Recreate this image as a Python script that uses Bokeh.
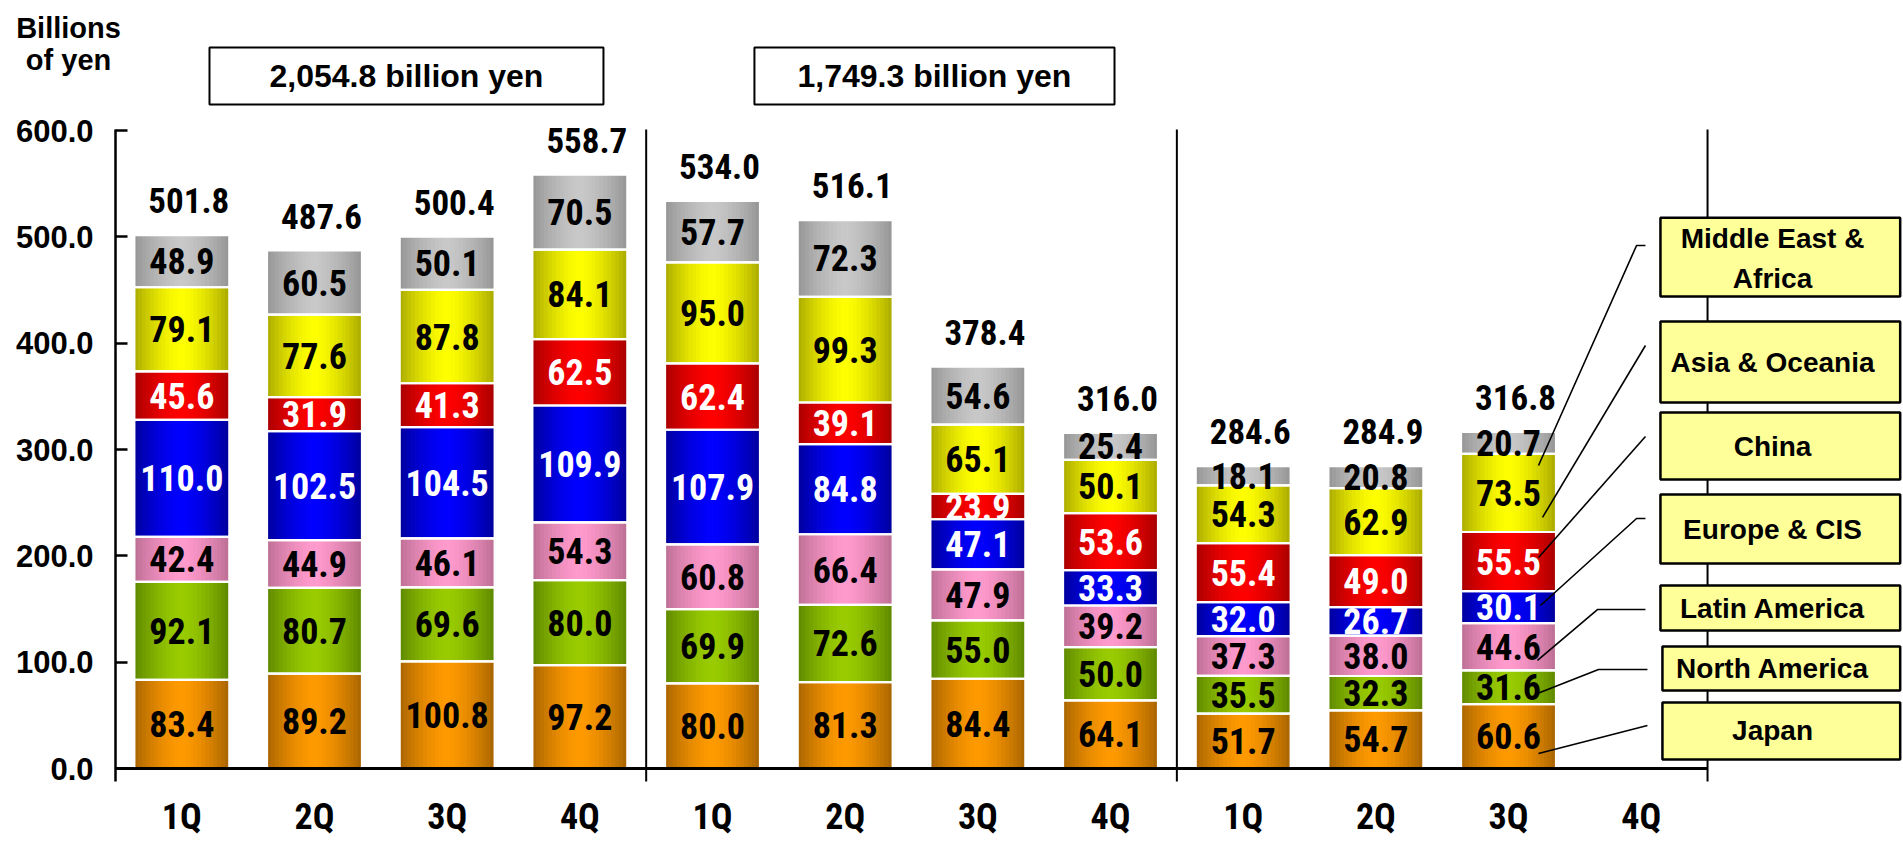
import numpy as np
from bokeh.plotting import figure
from bokeh.models import ColumnDataSource, Range1d, FixedTicker, NumeralTickFormatter, LinearAxis
from bokeh.core.properties import value
from bokeh.embed import file_html
from bokeh.resources import INLINE

# ---------------- data ----------------
quarters = ["1Q", "2Q", "3Q", "4Q", "1Q", "2Q", "3Q", "4Q", "1Q", "2Q", "3Q", "4Q"]
regions = ["Japan", "North America", "Latin America", "Europe & CIS",
           "China", "Asia & Oceania", "Middle East & Africa"]
legend_labels = ["Middle East &\nAfrica", "Asia & Oceania", "China", "Europe & CIS",
                 "Latin America", "North America", "Japan"]
japan = [83.4, 89.2, 100.8, 97.2, 80.0, 81.3, 84.4, 64.1, 51.7, 54.7, 60.6]
north_america = [92.1, 80.7, 69.6, 80.0, 69.9, 72.6, 55.0, 50.0, 35.5, 32.3, 31.6]
latin_america = [42.4, 44.9, 46.1, 54.3, 60.8, 66.4, 47.9, 39.2, 37.3, 38.0, 44.6]
europe_cis = [110.0, 102.5, 104.5, 109.9, 107.9, 84.8, 47.1, 33.3, 32.0, 26.7, 30.1]
china = [45.6, 31.9, 41.3, 62.5, 62.4, 39.1, 23.9, 53.6, 55.4, 49.0, 55.5]
asia_oceania = [79.1, 77.6, 87.8, 84.1, 95.0, 99.3, 65.1, 50.1, 54.3, 62.9, 73.5]
middle_east_africa = [48.9, 60.5, 50.1, 70.5, 57.7, 72.3, 54.6, 25.4, 18.1, 20.8, 20.7]
totals = [501.8, 487.6, 500.4, 558.7, 534.0, 516.1, 378.4, 316.0, 284.6, 284.9, 316.8]
period_totals = ["2,054.8 billion yen", "1,749.3 billion yen"]
y_ticks = [0, 100, 200, 300, 400, 500, 600]

series = [japan, north_america, latin_america, europe_cis, china, asia_oceania, middle_east_africa]

# ---------------- styles ----------------
NARROW = "Roboto Condensed, Liberation Sans"
SANS = "Liberation Sans"
edge_colors = ["#A86400", "#5E8800", "#BC6E94", "#00009A", "#A80000", "#AAAA00", "#959595"]
center_colors = ["#FF9A00", "#9ACC00", "#FF9ACC", "#0000FF", "#FF0000", "#FFFF00", "#C8C8C8"]
label_colors = ["black", "black", "black", "white", "white", "black", "black"]
BAR_W = 0.716
N_STRIPS = 24


def hex2rgb(h):
    h = h.lstrip("#")
    return np.array([int(h[i:i + 2], 16) for i in (0, 2, 4)], dtype=float)


def mix(a, b, t):
    c = hex2rgb(a) + (hex2rgb(b) - hex2rgb(a)) * t
    return "#%02x%02x%02x" % tuple(int(round(v)) for v in c)


p = figure(width=1903, height=843, output_backend="svg", toolbar_location=None,
           x_range=Range1d(-1.3668, 12.977), y_range=Range1d(-70.535, 722.28),
           x_axis_type=None, y_axis_type=None,
           min_border_left=0, min_border_right=0, min_border_top=0, min_border_bottom=0)
p.outline_line_color = None
p.background_fill_color = "white"
p.border_fill_color = "white"

# ---------------- stacked bars with horizontal gradient ----------------
n = len(totals)
xs = np.arange(n)
bottoms = []
tops = []
acc = np.zeros(n)
for s in series:
    v = np.array(s)
    bottoms.append(acc.copy())
    acc = acc + v
    tops.append(acc.copy())

strip_w = BAR_W / N_STRIPS
for k in range(N_STRIPS):
    u = (k + 0.5) / N_STRIPS
    t = 1 - abs(2 * u - 1) ** 1.5
    off = -BAR_W / 2 + (k + 0.5) * strip_w
    sx, sb, st, sc = [], [], [], []
    for r in range(len(series)):
        col = mix(edge_colors[r], center_colors[r], t)
        for i in range(n):
            sx.append(xs[i] + off)
            sb.append(bottoms[r][i])
            st.append(tops[r][i])
            sc.append(col)
    src = ColumnDataSource(dict(x=sx, bottom=sb, top=st, color=sc))
    p.vbar(x="x", bottom="bottom", top="top", width=strip_w * 1.2, fill_color="color",
           line_color=None, source=src)

# white separators between segments
ox, ob, ot = [], [], []
for r in range(len(series)):
    for i in range(n):
        ox.append(xs[i]); ob.append(bottoms[r][i]); ot.append(tops[r][i])
p.vbar(x=ox, bottom=ob, top=ot, width=BAR_W, fill_color=None, line_color="white", line_width=2.2)

# segment value labels
lx, ly, lt, lc = [], [], [], []
for r, s in enumerate(series):
    for i in range(n):
        lx.append(xs[i])
        ly.append((bottoms[r][i] + tops[r][i]) / 2)
        lt.append(f"{s[i]:.1f}")
        lc.append(label_colors[r])
p.text(x=lx, y=ly, text=lt, text_color=lc, text_align="center", text_baseline="middle",
       text_font=value(NARROW), text_font_style="bold", text_font_size="36px")

# totals
p.text(x=xs, y=totals, text=[f"{t:.1f}" for t in totals], text_align="center",
       text_baseline="alphabetic", x_offset=7, y_offset=-34, text_color="black",
       text_font=value(NARROW), text_font_style="bold", text_font_size="35px")

# period separators and x axis line
n_groups = len(quarters) // 4
sep_x = [g * 4 + 3.5 for g in range(n_groups)]
p.segment(x0=sep_x, y0=[-12.2] * n_groups, x1=sep_x, y1=[601] * n_groups,
          line_color="black", line_width=2)
p.segment(x0=[-0.5], y0=[0], x1=[len(quarters) - 0.5], y1=[0], line_color="black", line_width=3)

# leader lines to legend boxes
leader_xs = [[10.226, 10.965, 11.032], [10.256, 11.032], [10.226, 11.032],
             [10.241, 10.965, 11.032], [10.218, 10.670, 11.032],
             [10.218, 10.678, 11.047], [10.226, 11.047]]
leader_ys = [[285.0, 491.9, 491.9], [236.1, 397.8], [198.4, 312.2],
             [153.3, 235.1, 235.1], [101.6, 149.5, 149.5],
             [70.5, 93.1, 93.1], [14.1, 40.4]]
p.multi_line(xs=leader_xs, ys=leader_ys, line_color="black", line_width=1.6)

# legend boxes
box_left = [11.145, 11.145, 11.145, 11.145, 11.145, 11.16, 11.16]
box_right = [12.952] * 7
box_top = [518.0, 420.4, 334.8, 257.7, 172.1, 114.7, 62.1]
box_bottom = [443.9, 344.2, 271.8, 192.8, 129.8, 73.4, 8.5]
p.quad(left=box_left, right=box_right, top=box_top, bottom=box_bottom,
       fill_color="#FFFF99", line_color="black", line_width=2.5)
legend_y = [479.5, 382.3, 303.3, 225.2, 150.9, 94.0, 35.7]
p.text(x=[11.99] * 7, y=legend_y, text=legend_labels, text_align="center",
       text_baseline="middle", text_line_height=1.3, text_color="black",
       text_font=value(SANS), text_font_style="bold", text_font_size="28px")

# period total boxes
p.quad(left=[0.2085, 4.316], right=[3.178, 7.030], top=[678.1, 678.1], bottom=[624.5, 624.5],
       fill_color="white", line_color="black", line_width=2)
p.text(x=[1.693, 5.673], y=[651.3, 651.3], text=period_totals, text_align="center",
       text_baseline="middle", text_color="black",
       text_font=value(SANS), text_font_style="bold", text_font_size="32px")

# unit label
p.text(x=[-0.854, -0.854], y=[696.8, 666.0], text=["Billions", "of yen"], text_align="center",
       text_baseline="alphabetic", text_color="black",
       text_font=value(SANS), text_font_style="bold", text_font_size="29px")

# ---------------- axes ----------------
yaxis = LinearAxis(ticker=FixedTicker(ticks=y_ticks),
                   formatter=NumeralTickFormatter(format="0.0"), bounds=(-12.2, 601),
                   fixed_location=-0.5)
yaxis.axis_line_color = "black"
yaxis.axis_line_width = 2.5
yaxis.major_tick_in = 12
yaxis.major_tick_out = 0
yaxis.major_tick_line_width = 2.5
yaxis.minor_tick_line_color = None
yaxis.major_label_standoff = 22
yaxis.major_label_text_font = SANS
yaxis.major_label_text_font_style = "bold"
yaxis.major_label_text_font_size = "31px"
yaxis.major_label_text_color = "black"
p.add_layout(yaxis, "left")

xaxis = LinearAxis(ticker=FixedTicker(ticks=list(range(len(quarters)))),
                   major_label_overrides={i: q for i, q in enumerate(quarters)},
                   fixed_location=0)
xaxis.axis_line_color = None
xaxis.major_tick_line_color = None
xaxis.minor_tick_line_color = None
xaxis.major_label_standoff = 21
xaxis.major_label_text_font = NARROW
xaxis.major_label_text_font_style = "bold"
xaxis.major_label_text_font_size = "36px"
xaxis.major_label_text_color = "black"
p.add_layout(xaxis, "below")

open("out.html", "w").write(file_html(p, INLINE))
